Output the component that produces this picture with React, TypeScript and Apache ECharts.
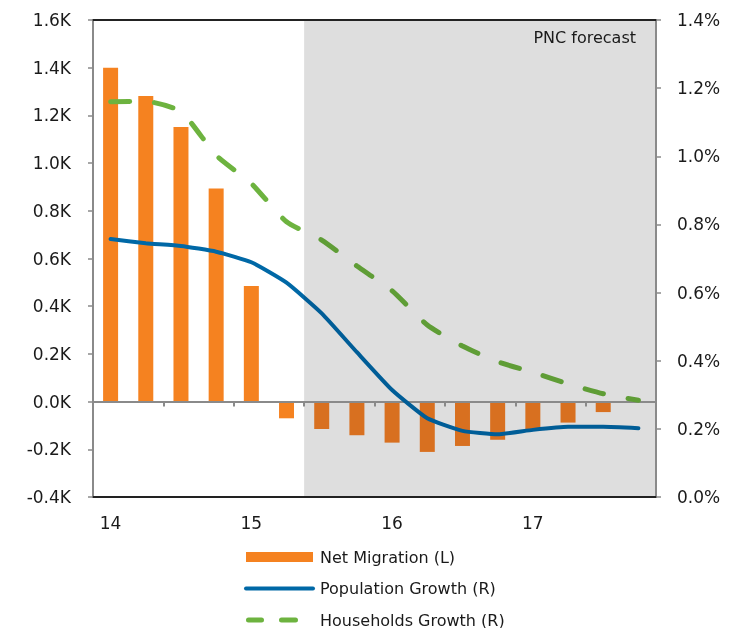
import React, { useEffect, useRef } from 'react';
import * as echarts from 'echarts';

const categories = [
  '14Q1', '14Q2', '14Q3', '14Q4',
  '15Q1', '15Q2', '15Q3', '15Q4',
  '16Q1', '16Q2', '16Q3', '16Q4',
  '17Q1', '17Q2', '17Q3', '17Q4',
];
// Net migration (left axis, K)
const netMigration: (number | null)[] = [
  1400, 1281, 1151, 894, 485, -70, -115, -141,
  -172, -211, -186, -160, -116, -88, -44, null,
];
// Percent (right axis)
const populationGrowth = [
  0.757, 0.745, 0.737, 0.72, 0.689, 0.629, 0.539, 0.425,
  0.314, 0.231, 0.194, 0.184, 0.197, 0.206, 0.206, 0.202,
];
const householdsGrowth = [
  1.16, 1.161, 1.131, 1.003, 0.92, 0.808, 0.754, 0.678,
  0.605, 0.505, 0.443, 0.397, 0.366, 0.332, 0.303, 0.284,
];
const forecastStart = 6; // first forecast quarter (15Q3)
const forecastLabel = 'PNC forecast';
const seriesNames = ['Net Migration (L)', 'Population Growth (R)', 'Households Growth (R)'];

const ORANGE = '#F58220';
const ORANGE_DARK = '#D87020';
const BLUE = '#0068A6';
const BLUE_DARK = '#005D97';
const GREEN = '#6DB33F';
const GREEN_DARK = '#5F9D36';
const SHADE = '#DEDEDE';
const FONT = 'DejaVu Sans';
const TEXT = '#1a1a1a';
const AXIS_GREY = '#8a8a8a';

// legend glyph: two rounded dashes in a 67x10 box
const DASH_ICON =
  'path://M0,0M67,10' +
  'M2.5,2.5H15.5A2.5,2.5 0 0 1 15.5,7.5H2.5A2.5,2.5 0 0 1 2.5,2.5Z' +
  'M35.5,2.5H49.5A2.5,2.5 0 0 1 49.5,7.5H35.5A2.5,2.5 0 0 1 35.5,2.5Z';

function splitGradient(light: string, dark: string) {
  const f = (forecastStart - 0.5) / (categories.length - 1);
  return new echarts.graphic.LinearGradient(0, 0, 1, 0, [
    { offset: 0, color: light },
    { offset: f, color: light },
    { offset: f, color: dark },
    { offset: 1, color: dark },
  ]);
}

export default function App() {
  const ref = useRef<HTMLDivElement>(null);
  useEffect(() => {
    if (!ref.current) return;
    const chart = echarts.init(ref.current, undefined, { renderer: 'svg' });
    const option: any = {
      animation: false,
      textStyle: { fontFamily: FONT },
      grid: { left: 93, right: 93, top: 20, bottom: 131, containLabel: false },
      legend: {
        orient: 'vertical',
        left: 244,
        top: 549,
        height: 90,
        padding: 0,
        itemWidth: 67,
        itemHeight: 10,
        itemGap: 15.5,
        textStyle: { fontSize: 16, color: TEXT, fontFamily: FONT, padding: [0, 0, 0, 2] },
        data: [
          { name: seriesNames[0], icon: 'rect', itemStyle: { color: ORANGE } },
          {
            name: seriesNames[1],
            itemStyle: { opacity: 0 },
            lineStyle: { color: BLUE, width: 4, cap: 'round' },
          },
          {
            name: seriesNames[2],
            icon: DASH_ICON,
            itemStyle: { color: GREEN, borderWidth: 0 },
          },
        ],
      },
      xAxis: [
        {
          type: 'category', data: categories, position: 'bottom', z: 3,
          axisLine: { onZero: false, lineStyle: { color: '#222', width: 2 } },
          axisTick: { show: false },
          axisLabel: {
            interval: 3, margin: 17, fontSize: 17, color: TEXT, fontFamily: FONT,
            formatter: (v: string) => v.slice(0, 2),
          },
          splitLine: { show: false },
        },
        {
          type: 'category', data: categories, position: 'bottom', z: 3,
          axisLine: { onZero: true, onZeroAxisIndex: 0, lineStyle: { color: AXIS_GREY, width: 2 } },
          axisTick: { show: true, length: 5, lineStyle: { color: AXIS_GREY, width: 2 } },
          axisLabel: { show: false },
          splitLine: { show: false },
        },
        {
          type: 'category', data: categories, position: 'top', z: 3,
          axisLine: { onZero: false, lineStyle: { color: '#222', width: 2 } },
          axisTick: { show: false },
          axisLabel: { show: false },
          splitLine: { show: false },
        },
        { type: 'value', min: 0, max: categories.length, show: false },
      ],
      yAxis: [
        {
          type: 'value', position: 'left', min: -400, max: 1600, interval: 200, z: 3,
          axisLine: { show: true, onZero: false, lineStyle: { color: AXIS_GREY, width: 2 } },
          axisTick: { show: true, length: 5, lineStyle: { color: AXIS_GREY, width: 1.5 } },
          splitLine: { show: false },
          axisLabel: {
            margin: 22, fontSize: 17, color: TEXT, fontFamily: FONT,
            formatter: (v: number) => (v / 1000).toFixed(1) + 'K',
          },
        },
        {
          type: 'value', position: 'right', min: 0, max: 1.4, interval: 0.2, z: 3,
          axisLine: { show: true, onZero: false, lineStyle: { color: AXIS_GREY, width: 2 } },
          axisTick: { show: true, length: 5, lineStyle: { color: AXIS_GREY, width: 1.5 } },
          splitLine: { show: false },
          axisLabel: {
            margin: 21, fontSize: 17, color: TEXT, fontFamily: FONT,
            formatter: (v: number) => v.toFixed(1) + '%',
          },
        },
      ],
      series: [
        {
          type: 'line', xAxisIndex: 3, yAxisIndex: 0, z: 1, silent: true,
          symbol: 'none', lineStyle: { opacity: 0 },
          data: [[forecastStart, 0]],
          markArea: {
            silent: true,
            itemStyle: { color: SHADE },
            label: {
              show: true, position: 'insideTopRight', distance: 0, offset: [-20, 9],
              fontSize: 16, color: TEXT, fontFamily: FONT,
            },
            data: [[{ xAxis: forecastStart, name: forecastLabel }, { xAxis: categories.length }]],
          },
        },
        {
          name: seriesNames[0], type: 'bar', xAxisIndex: 0, yAxisIndex: 0, barWidth: 15, z: 2,
          itemStyle: { color: ORANGE },
          data: netMigration.map((v, i) =>
            i >= forecastStart ? { value: v, itemStyle: { color: ORANGE_DARK } } : { value: v }
          ),
        },
        {
          name: seriesNames[1], type: 'line', xAxisIndex: 0, yAxisIndex: 1, z: 4,
          smooth: 0.15, symbol: 'none', showSymbol: false,
          itemStyle: { color: BLUE },
          lineStyle: { color: splitGradient(BLUE, BLUE_DARK), width: 4, cap: 'round' },
          data: populationGrowth,
        },
        {
          name: seriesNames[2], type: 'line', xAxisIndex: 0, yAxisIndex: 1, z: 4,
          smooth: 0.2, symbol: 'none', showSymbol: false,
          itemStyle: { color: GREEN },
          lineStyle: { color: splitGradient(GREEN, GREEN_DARK), width: 5, type: [19, 25], cap: 'round' },
          data: householdsGrowth,
        },
      ],
    };
    chart.setOption(option);
    return () => chart.dispose();
  }, []);
  return (
    <div
      ref={ref}
      style={{ position: 'fixed', left: 0, top: 0, width: 749, height: 628 }}
    />
  );
}
